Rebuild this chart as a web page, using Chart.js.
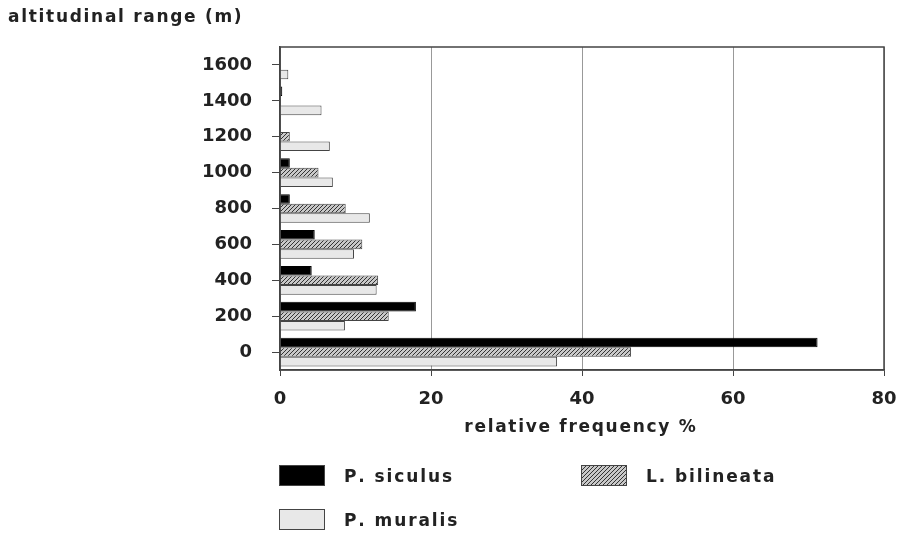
<!DOCTYPE html>
<html>
<head>
<meta charset="utf-8">
<script src="https://cdn.jsdelivr.net/npm/chart.js@4"></script>
<style>
  body { margin: 0; background: #fff; }
  #wrap { width: 903px; height: 534px; }
</style>
</head>
<body>
<div id="wrap"><canvas id="myChart"></canvas></div>
<script>
// altitudinal range classes (m)
const altitudes = ["0", "200", "400", "600", "800", "1000", "1200", "1400", "1600"];
// relative frequency % per species
const siculus = [71.2, 18.0, 4.2, 4.6, 1.3, 1.3, 0, 0.3, 0];
const bilineata = [46.5, 14.4, 13.0, 10.9, 8.7, 5.1, 1.3, 0, 0];
const muralis = [36.7, 8.6, 12.8, 9.8, 11.9, 7.0, 6.6, 5.5, 1.1];
const xTicks = [0, 20, 40, 60, 80];

const fontFamily = "'DejaVu Sans', sans-serif";

// hatched fill for L. bilineata
function makeHatch() {
  const c = document.createElement("canvas");
  c.width = 4;
  c.height = 4;
  const g = c.getContext("2d");
  g.fillStyle = "#c8c8c8";
  g.fillRect(0, 0, 4, 4);
  g.strokeStyle = "#333";
  g.lineWidth = 1;
  g.beginPath();
  g.moveTo(0, 4);
  g.lineTo(4, 0);
  g.moveTo(-1, 1);
  g.lineTo(1, -1);
  g.moveTo(3, 5);
  g.lineTo(5, 3);
  g.stroke();
  return g.createPattern(c, "repeat");
}
const hatch = makeHatch();

// wide, letter-spaced text like the original typewriter-ish labels
function spacedText(ctx, text, x, y, gap, align) {
  let total = 0;
  for (const ch of text) total += ctx.measureText(ch).width + gap;
  total -= gap;
  let cx = align === "center" ? x - total / 2 : x;
  ctx.textAlign = "left";
  for (const ch of text) {
    ctx.fillText(ch, cx, y);
    cx += ctx.measureText(ch).width + gap;
  }
}

const boxPlugin = {
  id: "boxAndText",
  afterDraw(chart) {
    const { ctx, chartArea } = chart;
    ctx.save();
    // frame around the plot
    ctx.strokeStyle = "#444";
    ctx.lineWidth = 1.5;
    ctx.strokeRect(chartArea.left, chartArea.top, chartArea.right - chartArea.left, chartArea.bottom - chartArea.top);

    ctx.fillStyle = "#222";
    ctx.font = "bold 17px " + fontFamily;
    ctx.textBaseline = "middle";
    spacedText(ctx, "altitudinal range (m)", 8, 18, 1.7, "left");
    spacedText(ctx, "relative frequency %", 580, 428, 1.7, "center");

    // legend
    const items = [
      { text: "P. siculus", fill: "#000", x: 279, y: 465 },
      { text: "L. bilineata", fill: hatch, x: 581, y: 465 },
      { text: "P. muralis", fill: "#e8e8e8", x: 279, y: 509 },
    ];
    items.forEach((it) => {
      ctx.fillStyle = it.fill;
      ctx.fillRect(it.x, it.y, 46, 21);
      ctx.strokeStyle = "#444";
      ctx.lineWidth = 1;
      ctx.strokeRect(it.x + 0.5, it.y + 0.5, 45, 20);
      ctx.fillStyle = "#222";
      spacedText(ctx, it.text, it.x + 65, it.y + 13, 1.9, "left");
    });
    ctx.restore();
  },
};

const ctx = document.getElementById("myChart");

new Chart(ctx, {
  type: "bar",
  data: {
    labels: altitudes,
    datasets: [
      {
        label: "P. siculus",
        data: siculus,
        backgroundColor: "#000",
        borderColor: "#000",
        borderWidth: 1,
      },
      {
        label: "L. bilineata",
        data: bilineata,
        backgroundColor: hatch,
        borderColor: "#444",
        borderWidth: 1,
      },
      {
        label: "P. muralis",
        data: muralis,
        backgroundColor: "#e8e8e8",
        borderColor: "#444",
        borderWidth: 1,
      },
    ],
  },
  options: {
    indexAxis: "y",
    responsive: true,
    maintainAspectRatio: false,
    animation: false,
    categoryPercentage: 0.8,
    barPercentage: 1.0,
    layout: { padding: { left: 0, right: 19, top: 47, bottom: 0 } },
    plugins: {
      legend: { display: false },
      tooltip: { enabled: false },
    },
    scales: {
      x: {
        min: 0,
        max: 80,
        afterBuildTicks: (scale) => {
          scale.ticks = xTicks.map((v) => ({ value: v }));
        },
        afterFit: (scale) => {
          scale.height = 164;
          scale.paddingLeft = 0;
          scale.paddingRight = 0;
        },
        grid: { color: "#999", lineWidth: 1, tickLength: 6, tickColor: "#444" },
        border: { color: "#444", width: 1.5 },
        ticks: {
          color: "#222",
          padding: 13,
          maxRotation: 0,
          font: { family: fontFamily, weight: "bold", size: 18 },
        },
      },
      y: {
        reverse: true,
        afterFit: (scale) => {
          scale.width = 280;
        },
        grid: { drawOnChartArea: false, offset: false, tickLength: 8, color: "#444" },
        border: { color: "#444", width: 1.5 },
        ticks: {
          color: "#222",
          padding: 20,
          font: { family: fontFamily, weight: "bold", size: 18 },
        },
      },
    },
  },
  plugins: [boxPlugin],
});
</script>
</body>
</html>
